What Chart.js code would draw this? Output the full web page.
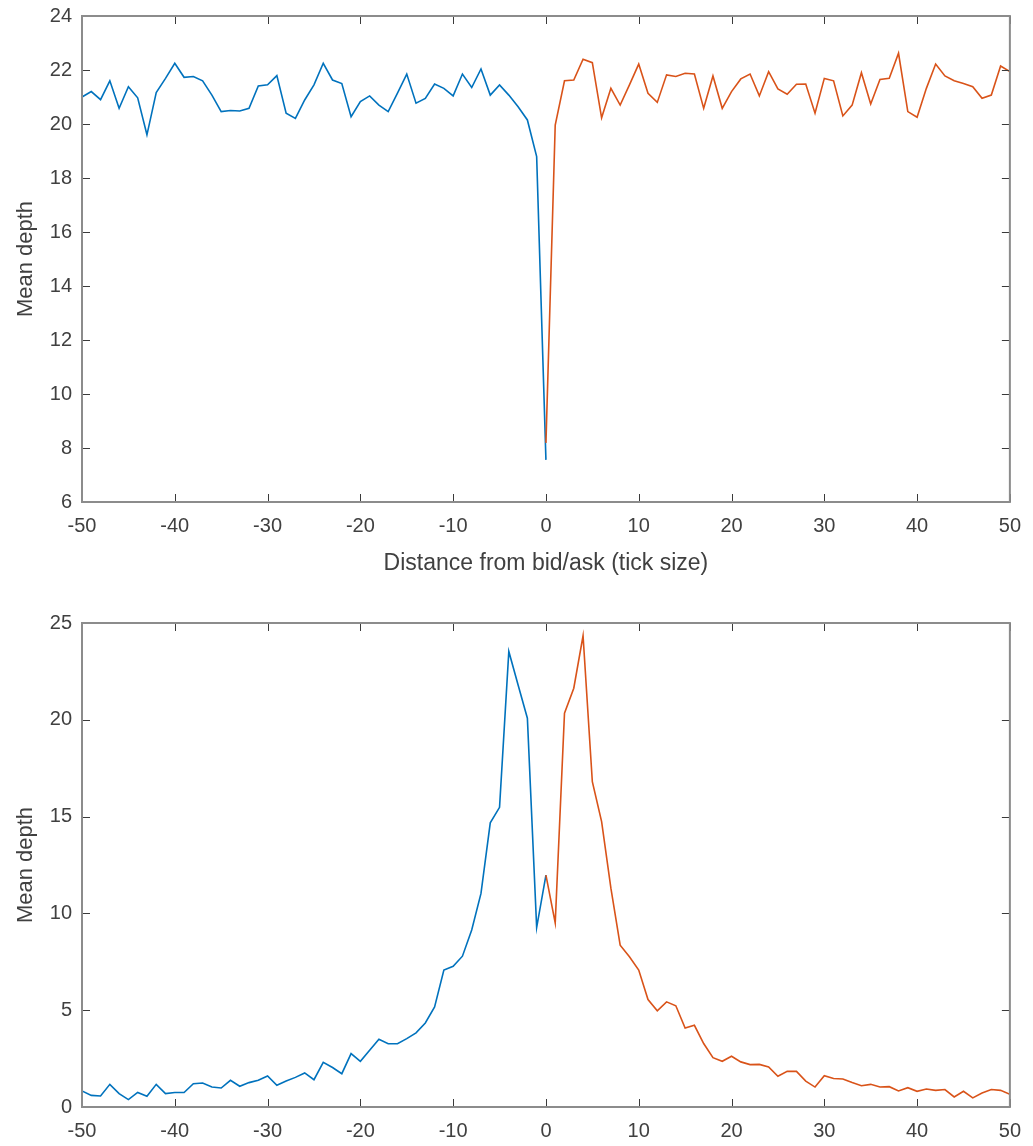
<!DOCTYPE html>
<html lang="en">
<head>
    <meta charset="UTF-8">
    <title>Mean depth vs distance from bid/ask</title>
    <script src="https://cdn.jsdelivr.net/npm/chart.js"></script>
    <style>
        body {
            margin: 0;
            background: #ffffff;
            font-family: "Liberation Sans", Arial, sans-serif;
            overflow: hidden;
        }
        .panel {
            position: absolute;
            left: 0;
            width: 1033px;
        }
        /* top panel starts slightly above the page so its plot box sits at y=16 */
        #topPanel { top: -6px; height: 606px; }
        #bottomPanel { top: 600px; height: 546px; }
    </style>
</head>
<body>
    <div class="panel" id="topPanel"><canvas id="topChart"></canvas></div>
    <div class="panel" id="bottomPanel"><canvas id="bottomChart"></canvas></div>

    <script>
        // distance from best bid / best ask, in ticks
        const bidDistance = [-50, -49, -48, -47, -46, -45, -44, -43, -42, -41,
            -40, -39, -38, -37, -36, -35, -34, -33, -32, -31,
            -30, -29, -28, -27, -26, -25, -24, -23, -22, -21,
            -20, -19, -18, -17, -16, -15, -14, -13, -12, -11,
            -10, -9, -8, -7, -6, -5, -4, -3, -2, -1, 0];
        const askDistance = [0, 1, 2, 3, 4, 5, 6, 7, 8, 9,
            10, 11, 12, 13, 14, 15, 16, 17, 18, 19,
            20, 21, 22, 23, 24, 25, 26, 27, 28, 29,
            30, 31, 32, 33, 34, 35, 36, 37, 38, 39,
            40, 41, 42, 43, 44, 45, 46, 47, 48, 49, 50];

        // top panel
        const topBidDepth = [21.0, 21.2, 20.9, 21.6, 20.58, 21.38, 20.97, 19.6, 21.16, 21.69,
            22.25, 21.73, 21.76, 21.6, 21.07, 20.46, 20.5, 20.48, 20.58, 21.41,
            21.45, 21.79, 20.4, 20.21, 20.89, 21.45, 22.25, 21.63, 21.5, 20.27,
            20.83, 21.04, 20.7, 20.46, 21.14, 21.85, 20.77, 20.95, 21.48, 21.32,
            21.04, 21.85, 21.35, 22.04, 21.07, 21.45, 21.07, 20.64, 20.15, 18.79, 7.56];
        const topAskDepth = [8.19, 19.96, 21.6, 21.63, 22.4, 22.27, 20.23, 21.32, 20.7, 21.45,
            22.22, 21.14, 20.8, 21.82, 21.76, 21.88, 21.85, 20.58, 21.78, 20.58,
            21.2, 21.67, 21.85, 21.04, 21.94, 21.3, 21.1, 21.47, 21.48, 20.4,
            21.69, 21.6, 20.3, 20.7, 21.9, 20.74, 21.65, 21.69, 22.62, 20.46,
            20.25, 21.32, 22.22, 21.78, 21.6, 21.5, 21.38, 20.95, 21.07, 22.15, 21.94];

        // bottom panel
        const bottomBidDepth = [0.83, 0.6, 0.57, 1.17, 0.69, 0.38, 0.75, 0.55, 1.17, 0.69,
            0.75, 0.75, 1.2, 1.24, 1.03, 0.98, 1.38, 1.07, 1.26, 1.38,
            1.6, 1.12, 1.34, 1.53, 1.76, 1.41, 2.31, 2.04, 1.72, 2.76,
            2.36, 2.93, 3.5, 3.27, 3.27, 3.53, 3.83, 4.34, 5.17, 7.07,
            7.27, 7.79, 9.14, 11.03, 14.68, 15.48, 23.53, 21.8, 20.08, 9.27, 11.98];
        const bottomAskDepth = [11.98, 9.51, 20.34, 21.63, 24.34, 16.8, 14.74, 11.3, 8.36, 7.76,
            7.07, 5.55, 4.97, 5.43, 5.23, 4.08, 4.22, 3.28, 2.55, 2.36,
            2.62, 2.33, 2.19, 2.2, 2.07, 1.59, 1.84, 1.84, 1.34, 1.03,
            1.62, 1.47, 1.45, 1.26, 1.1, 1.17, 1.03, 1.05, 0.83, 1.0,
            0.81, 0.93, 0.86, 0.9, 0.52, 0.81, 0.47, 0.72, 0.9, 0.86, 0.66];

        const xTicks = [-50, -40, -30, -20, -10, 0, 10, 20, 30, 40, 50];
        const topYTicks = [6, 8, 10, 12, 14, 16, 18, 20, 22, 24];
        const bottomYTicks = [0, 5, 10, 15, 20, 25];

        const BLUE = '#0072BD';
        const ORANGE = '#D95319';
        const TEXT = '#404040';

        function points(xs, ys) {
            return xs.map((x, i) => ({ x: x, y: ys[i] }));
        }

        // matlab style box with inward ticks on all four sides
        const boxPlugin = {
            id: 'box',
            afterDatasetsDraw(chart) {
                const { ctx, chartArea: a, scales } = chart;
                const len = 8;
                ctx.save();
                ctx.strokeStyle = '#3a3a3a';
                ctx.lineWidth = 1;
                ctx.beginPath();
                scales.x.ticks.forEach(t => {
                    const px = Math.round(scales.x.getPixelForValue(t.value)) + 0.5;
                    ctx.moveTo(px, a.bottom); ctx.lineTo(px, a.bottom - len);
                    ctx.moveTo(px, a.top); ctx.lineTo(px, a.top + len);
                });
                scales.y.ticks.forEach(t => {
                    const py = Math.round(scales.y.getPixelForValue(t.value)) + 0.5;
                    ctx.moveTo(a.left, py); ctx.lineTo(a.left + len, py);
                    ctx.moveTo(a.right, py); ctx.lineTo(a.right - len, py);
                });
                ctx.stroke();
                ctx.strokeStyle = '#8c8c8c';
                ctx.lineWidth = 2;
                ctx.strokeRect(a.left, a.top, a.right - a.left, a.bottom - a.top);
                ctx.restore();
            }
        };

        function makeChart(id, bid, ask, yTicks, opts) {
            return new Chart(document.getElementById(id), {
                type: 'line',
                data: {
                    datasets: [
                        {
                            data: points(bidDistance, bid),
                            borderColor: BLUE,
                            borderWidth: 1.6,
                            pointRadius: 0,
                            tension: 0,
                            order: 2
                        },
                        {
                            data: points(askDistance, ask),
                            borderColor: ORANGE,
                            borderWidth: 1.6,
                            pointRadius: 0,
                            tension: 0,
                            order: 1
                        }
                    ]
                },
                options: {
                    responsive: true,
                    maintainAspectRatio: false,
                    animation: false,
                    layout: { padding: { top: opts.padTop, right: 18, left: 0, bottom: 0 } },
                    plugins: {
                        legend: { display: false },
                        tooltip: { enabled: false }
                    },
                    scales: {
                        x: {
                            type: 'linear',
                            min: -50,
                            max: 50,
                            afterBuildTicks: s => { s.ticks = xTicks.map(v => ({ value: v })); },
                            afterFit: s => { s.height = opts.xHeight; },
                            grid: { display: false, drawTicks: false },
                            border: { display: false },
                            ticks: {
                                color: TEXT,
                                padding: 12,
                                maxRotation: 0,
                                font: { family: '"Liberation Sans", Arial', size: 20 }
                            },
                            title: {
                                display: opts.xTitle !== '',
                                text: opts.xTitle,
                                color: TEXT,
                                padding: { top: 0, bottom: 23 },
                                font: { family: '"Liberation Sans", Arial', size: 23 }
                            }
                        },
                        y: {
                            min: yTicks[0],
                            max: yTicks[yTicks.length - 1],
                            afterBuildTicks: s => { s.ticks = yTicks.map(v => ({ value: v })); },
                            afterFit: s => { s.width = 82; },
                            grid: { display: false, drawTicks: false },
                            border: { display: false },
                            ticks: {
                                color: TEXT,
                                padding: 10,
                                font: { family: '"Liberation Sans", Arial', size: 20 }
                            },
                            title: {
                                display: true,
                                text: 'Mean depth',
                                color: TEXT,
                                padding: { top: 13, bottom: 0 },
                                font: { family: '"Liberation Sans", Arial', size: 22 }
                            }
                        }
                    }
                },
                plugins: [boxPlugin]
            });
        }

        makeChart('topChart', topBidDepth, topAskDepth, topYTicks,
            { padTop: 22, xHeight: 98, xTitle: 'Distance from bid/ask (tick size)' });
        makeChart('bottomChart', bottomBidDepth, bottomAskDepth, bottomYTicks,
            { padTop: 23, xHeight: 39, xTitle: '' });
    </script>
</body>
</html>
